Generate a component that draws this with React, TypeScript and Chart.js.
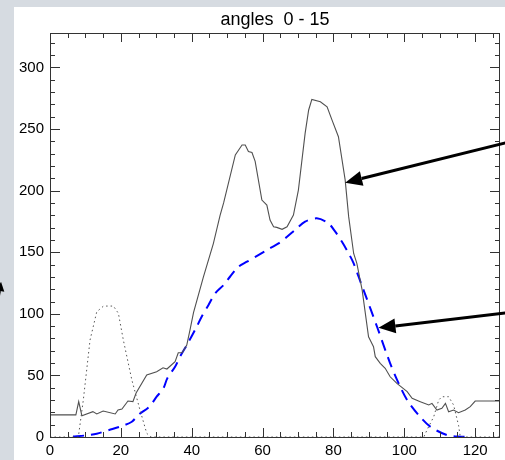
import React, { useEffect, useRef } from "react";
import { Chart, registerables } from "chart.js";

Chart.register(...registerables);

const titleText = "angles  0 - 15";

const xTickValues = [0, 20, 40, 60, 80, 100, 120];
const yTickValues = [0, 50, 100, 150, 200, 250, 300];
const xMinorStep = 5;
const yMinorStep = 10;
const xMin = 0;
const xMax = 127;
const yMin = 0;
const yMax = 328;

// solid (measured) curve
const solidX = [0, 7.3, 8.1, 9.0, 12.1, 13.2, 15.0, 18.4, 19.2, 20.3, 22.0, 23.4, 24.3, 27.3, 30.1, 31.9, 33.0, 35.3, 36.2, 37.3, 38.6, 39.5, 40.5, 43.3, 46.1, 48.0, 49.0, 52.3, 54.2, 55.1, 56.0, 57.0, 57.9, 59.8, 61.2, 62.1, 63.1, 64.0, 65.5, 66.9, 68.7, 70.1, 72.0, 73.0, 73.9, 76.3, 78.2, 79.6, 81.4, 83.3, 84.3, 85.7, 86.6, 88.1, 89.9, 91.3, 91.8, 93.2, 94.6, 96.0, 97.9, 100.8, 102.2, 104.5, 106.9, 107.8, 109.2, 110.6, 111.6, 112.5, 113.9, 115.3, 117.2, 118.6, 120.0, 127];
const solidY = [18, 18, 28.7, 17.3, 20.6, 18.7, 21.1, 18.7, 21.9, 22.7, 29.2, 28.7, 35.7, 50.3, 53, 56.2, 55.2, 61.1, 68.4, 68.4, 74.6, 86.8, 101, 130, 157, 180, 190, 229, 237.1, 237.1, 231.8, 231, 223.8, 192.4, 188.3, 176.1, 170.7, 170.2, 168.6, 170.7, 180.2, 200.5, 246.5, 265.5, 274.1, 272.2, 268.1, 257.3, 243.8, 208.7, 178.7, 149, 140.9, 119.3, 81.4, 73.3, 65.2, 59.8, 55.8, 48.9, 43.5, 36.8, 31.4, 28.7, 26, 27.3, 21.9, 23.3, 27.3, 20.5, 21.9, 19.7, 21.9, 24.6, 29.2, 29.2];

// dashed blue (model) curve
const dashedX = [6.5, 9.9, 13.2, 16.7, 19.8, 23.1, 24.9, 28.0, 30.1, 32.0, 33.1, 35.3, 36.7, 38.6, 41.4, 42.8, 44.7, 46.6, 49.0, 50.8, 53.2, 55.6, 58.8, 61.2, 64.5, 66.9, 69.5, 72.0, 75.3, 78.6, 80.5, 82.4, 84.3, 85.7, 87.1, 88.5, 92.3, 96.0, 98.4, 100.8, 104.0, 107.3, 112.0, 115.8, 118.2];
const dashedY = [0.5, 1.2, 2.7, 5.7, 8.4, 12.4, 17.9, 24.6, 32.7, 39.5, 47.6, 57, 65.2, 74.6, 89.5, 97.6, 107, 116.6, 123.4, 130.1, 138.2, 142.3, 147.7, 151.8, 157.2, 162.6, 169, 174.8, 177.5, 173.4, 166.7, 158.5, 149, 141, 130.1, 119.3, 89.5, 59.8, 43.5, 30, 17.9, 8.4, 1.6, 0.2, 0.2];

// dotted curve
const dottedX = [0, 8.0, 9.4, 11.3, 13.2, 15.1, 17.9, 19.3, 20.7, 23.1, 25.4, 27.3, 28.5, 105.5, 106.4, 108.3, 109.7, 110.6, 112.5, 113.9, 115.3, 115.8, 127];
const dottedY = [0, 0, 30, 78.7, 101.7, 106.3, 106.3, 100.4, 78.7, 46.3, 21.9, 3, 0, 0, 5.7, 16.5, 30, 32.7, 32.7, 26, 9.5, 0, 0];

// arrows: [tailX, tailY], [tipX, tipY] in data units
const arrowTails = [
  [128.8, 239],
  [128.8, 100.8],
  [-17, 78],
];
const arrowTips = [
  [83.3, 206.5],
  [92.7, 88.6],
  [-13.8, 125.8],
];

const toPoints = (xs: number[], ys: number[]) => xs.map((x, i) => ({ x, y: ys[i] }));

const decorPlugin = {
  id: "decor",
  beforeDraw(chart: any) {
    const ctx = chart.ctx;
    ctx.save();
    ctx.fillStyle = "#d6dbe1";
    ctx.fillRect(0, 0, chart.width, chart.height);
    ctx.fillStyle = "#ffffff";
    ctx.fillRect(14, 7, chart.width - 14, chart.height - 7);
    ctx.restore();
  },
  afterDraw(chart: any) {
    const ctx = chart.ctx;
    const { left, right, top, bottom } = chart.chartArea;
    const xs = chart.scales.x;
    const ys = chart.scales.y;
    ctx.save();
    ctx.strokeStyle = "#333333";
    ctx.lineWidth = 1;
    ctx.strokeRect(left + 0.5, top + 0.5, right - left - 1, bottom - top);
    ctx.beginPath();
    for (let v = xMin; v <= xMax; v += xMinorStep) {
      const px = Math.round(xs.getPixelForValue(v)) + 0.5;
      const len = xTickValues.includes(v) ? 9 : 5;
      ctx.moveTo(px, bottom);
      ctx.lineTo(px, bottom - len);
      ctx.moveTo(px, top);
      ctx.lineTo(px, top + len);
    }
    for (let v = yMin; v <= yMax; v += yMinorStep) {
      const py = Math.round(ys.getPixelForValue(v)) + 0.5;
      const len = yTickValues.includes(v) ? 10 : 5;
      ctx.moveTo(left, py);
      ctx.lineTo(left + len, py);
      ctx.moveTo(right, py);
      ctx.lineTo(right - len, py);
    }
    ctx.stroke();
    ctx.fillStyle = "#000000";
    ctx.font = "18px 'Liberation Sans', Arial, sans-serif";
    ctx.textAlign = "center";
    ctx.textBaseline = "alphabetic";
    ctx.fillText(titleText, (left + right) / 2, 25);
    ctx.strokeStyle = "#000000";
    ctx.fillStyle = "#000000";
    arrowTails.forEach((t, i) => {
      const tip = arrowTips[i];
      const x1 = xs.getPixelForValue(t[0]);
      const y1 = ys.getPixelForValue(t[1]);
      const x2 = xs.getPixelForValue(tip[0]);
      const y2 = ys.getPixelForValue(tip[1]);
      const ang = Math.atan2(y2 - y1, x2 - x1);
      const headLen = i === 2 ? 9 : 17;
      const headW = i === 2 ? 5 : 7.5;
      const bx = x2 - headLen * Math.cos(ang);
      const by = y2 - headLen * Math.sin(ang);
      ctx.lineWidth = 3;
      ctx.beginPath();
      ctx.moveTo(x1, y1);
      ctx.lineTo(bx, by);
      ctx.stroke();
      ctx.beginPath();
      ctx.moveTo(x2, y2);
      ctx.lineTo(bx + headW * Math.sin(ang), by - headW * Math.cos(ang));
      ctx.lineTo(bx - headW * Math.sin(ang), by + headW * Math.cos(ang));
      ctx.closePath();
      ctx.fill();
    });
    ctx.restore();
  },
};

export default function App() {
  const ref = useRef<HTMLCanvasElement | null>(null);
  useEffect(() => {
    if (!ref.current) return;
    const chart = new Chart(ref.current, {
      type: "line",
      data: {
        datasets: [
          {
            data: toPoints(dottedX, dottedY),
            borderColor: "#555555",
            borderWidth: 1,
            borderDash: [1.5, 3],
            pointRadius: 0,
            tension: 0,
          },
          {
            data: toPoints(solidX, solidY),
            borderColor: "#505050",
            borderWidth: 1.1,
            pointRadius: 0,
            tension: 0,
          },
          {
            data: toPoints(dashedX, dashedY),
            borderColor: "#0000ff",
            borderWidth: 2,
            borderDash: [11, 7],
            pointRadius: 0,
            tension: 0.3,
          },
        ],
      },
      options: {
        responsive: false,
        animation: false,
        events: [],
        layout: { padding: { top: 33, right: 5, left: 0, bottom: 0 } },
        plugins: { legend: { display: false }, title: { display: false }, tooltip: { enabled: false } },
        scales: {
          x: {
            type: "linear",
            min: xMin,
            max: xMax,
            grid: { display: false, drawTicks: false },
            border: { display: false },
            ticks: {
              color: "#000",
              padding: 5,
              maxRotation: 0,
              autoSkip: false,
              font: { family: "'Liberation Sans', Arial, sans-serif", size: 15 },
            },
            afterBuildTicks: (s: any) => {
              s.ticks = xTickValues.map((v) => ({ value: v }));
            },
            afterFit: (s: any) => {
              s.height = 23;
            },
          },
          y: {
            type: "linear",
            min: yMin,
            max: yMax,
            grid: { display: false, drawTicks: false },
            border: { display: false },
            ticks: {
              color: "#000",
              padding: 6,
              autoSkip: false,
              font: { family: "'Liberation Sans', Arial, sans-serif", size: 15 },
            },
            afterBuildTicks: (s: any) => {
              s.ticks = yTickValues.map((v) => ({ value: v }));
            },
            afterFit: (s: any) => {
              s.width = 50;
            },
          },
        },
      },
      plugins: [decorPlugin],
    });
    return () => chart.destroy();
  }, []);
  return (
    <div style={{ position: "fixed", left: 0, top: 0, width: 505, height: 460 }}>
      <canvas ref={ref} width={505} height={460} style={{ display: "block", width: 505, height: 460 }} />
    </div>
  );
}
